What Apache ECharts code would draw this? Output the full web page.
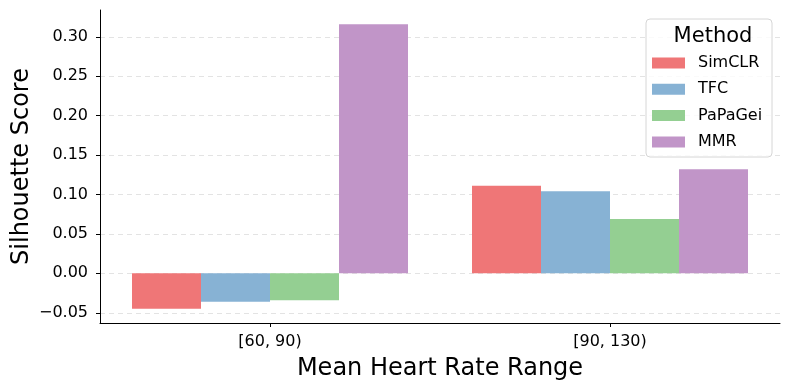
<!DOCTYPE html>
<html>
<head>
<meta charset="utf-8">
<script src="https://cdn.jsdelivr.net/npm/echarts@6/dist/echarts.min.js"></script>
<style>
  html, body { margin: 0; padding: 0; background: #fff; }
  #main { width: 789px; height: 390px; }
</style>
</head>
<body>
<div id="main"></div>
<script>
// data
const categories = ['[60, 90)', '[90, 130)'];
const methods = ['SimCLR', 'TFC', 'PaPaGei', 'MMR'];
const simclr = [-0.045, 0.111];
const tfc = [-0.036, 0.104];
const papagei = [-0.034, 0.069];
const mmr = [0.316, 0.132];
const yTicks = [-0.05, 0, 0.05, 0.1, 0.15, 0.2, 0.25, 0.3];

const colors = ['#ef7677', '#87b2d4', '#94cf92', '#c195c8'];
const font = 'DejaVu Sans';

var chart = echarts.init(document.getElementById('main'), null, { renderer: 'canvas' });

const seriesData = [simclr, tfc, papagei, mmr];

var option = {
  animation: false,
  backgroundColor: '#fff',
  textStyle: { fontFamily: font },
  grid: { left: 100, right: 9, top: 10, bottom: 67, containLabel: false, outerBoundsMode: 'none' },
  title: {
    text: 'Method',
    left: 708,
    top: 21,
    textAlign: 'center',
    z: 100,
    textStyle: { fontFamily: font, fontSize: 21, fontWeight: 'normal', color: '#000' }
  },
  graphic: [{
    type: 'rect',
    shape: { x: 646, y: 19, width: 126, height: 138, r: 4 },
    style: { fill: 'rgba(255,255,255,0.8)', stroke: '#d6d6d6', lineWidth: 1 },
    z: 50
  }],
  legend: {
    data: methods,
    orient: 'vertical',
    left: 652,
    top: 55,
    padding: 0,
    itemWidth: 33,
    itemHeight: 11,
    itemGap: 10.3,
    icon: 'rect',
    z: 60,
    textStyle: { fontFamily: font, fontSize: 16, color: '#000', lineHeight: 16, padding: [0, 0, 0, 8] }
  },
  xAxis: {
    type: 'category',
    data: categories,
    name: 'Mean Heart Rate Range',
    nameLocation: 'middle',
    nameGap: 34,
    nameMoveOverlap: false,
    nameTextStyle: { fontFamily: font, fontSize: 24, color: '#000' },
    axisLine: { show: true, onZero: false, lineStyle: { color: '#000', width: 1 } },
    axisTick: { show: true, alignWithLabel: true, length: 4, lineStyle: { color: '#000' } },
    axisLabel: { fontFamily: font, fontSize: 16, color: '#000', margin: 11 },
    splitLine: { show: false }
  },
  yAxis: {
    type: 'value',
    min: -0.063,
    max: 0.334,
    name: 'Silhouette Score',
    nameLocation: 'middle',
    nameGap: 66,
    nameMoveOverlap: false,
    nameTextStyle: { fontFamily: font, fontSize: 24, color: '#000' },
    axisLine: { show: true, lineStyle: { color: '#000', width: 1 } },
    axisTick: { show: true, length: 4, lineStyle: { color: '#000' }, customValues: yTicks },
    axisLabel: {
      fontFamily: font, fontSize: 16, color: '#000', margin: 12,
      customValues: yTicks,
      formatter: function (v) { return v.toFixed(2).replace('-', '\u2212'); }
    },
    splitLine: { show: false }
  },
  series: methods.map(function (m, i) {
    const s = {
      name: m,
      type: 'bar',
      data: seriesData[i],
      barWidth: 69,
      barGap: '0%',
      itemStyle: { color: colors[i] }
    };
    if (i === 0) {
      s.markLine = {
        silent: true,
        symbol: 'none',
        label: { show: false },
        lineStyle: { color: '#e3e3e3', type: [5, 4], width: 1 },
        data: yTicks.map(function (t) { return { yAxis: t }; }),
        z: 0
      };
    }
    return s;
  })
};

chart.setOption(option);
</script>
</body>
</html>
